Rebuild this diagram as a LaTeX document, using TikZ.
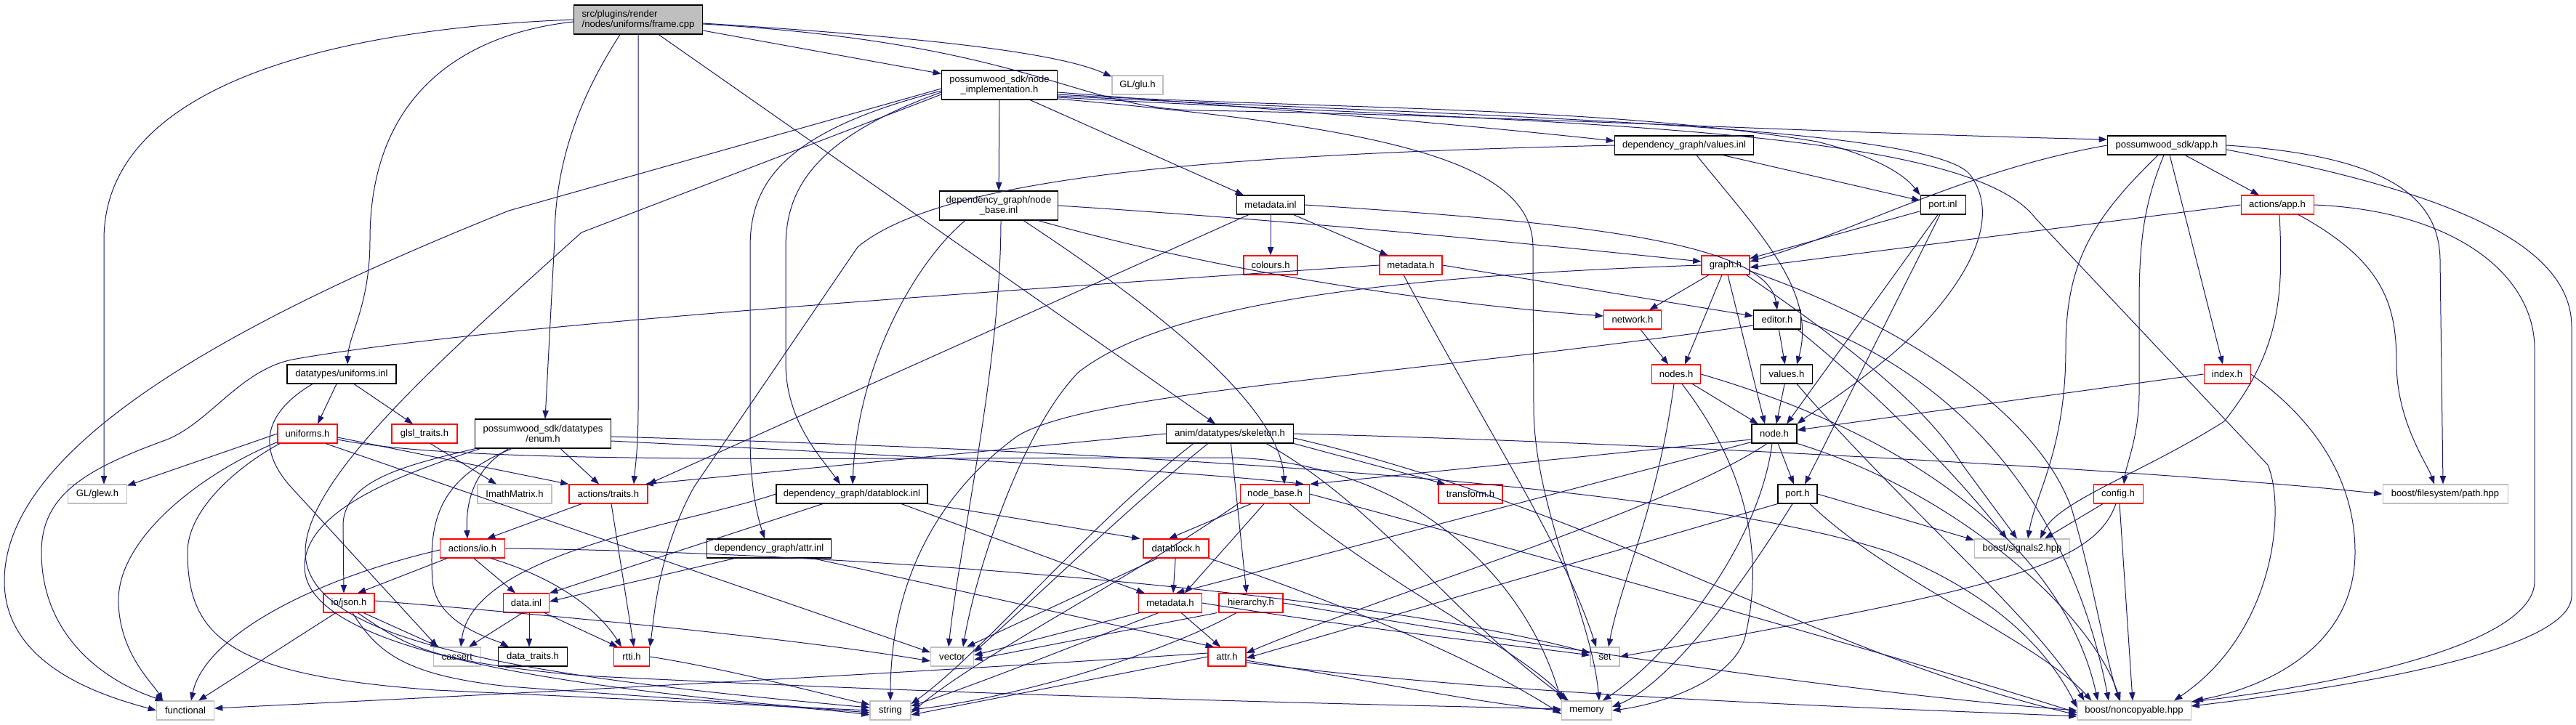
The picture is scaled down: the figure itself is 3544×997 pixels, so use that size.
\documentclass[tikz,border=0pt]{standalone}
\usepackage{fontspec}
\setmainfont{Liberation Sans}
\usetikzlibrary{arrows.meta,calc}
\definecolor{edgec}{HTML}{191970}
\definecolor{extc}{HTML}{BFBFBF}
\tikzset{
 every node/.style={font=\fontsize{9.8pt}{10.3pt}\selectfont},
 box/.style={draw=black, fill=white, line width=0.8pt, inner sep=0pt, rectangle},
 redbox/.style={box, draw=red},
 extbox/.style={box, draw=extc},
 rootbox/.style={box, fill=extc},
 bw/.style={minimum width=#1*0.75pt},
 bh/.style={minimum height=#1*0.75pt},
 e/.style={draw=edgec, line width=0.75pt, -{Triangle[length=8.5pt,width=6.2pt]}},
}
\begin{document}
\begin{tikzpicture}[x=0.75pt,y=-0.75pt]
\useasboundingbox (0,0) rectangle (3544,997);
% nodes
\node[rootbox,bw=177,bh=40,align=left] (root) at (878,27) {src/plugins/render\\/nodes/uniforms/frame.cpp};
\node[box,bw=159,bh=40,align=center] (nimpl) at (1375,117) {possumwood\_sdk/node\\\_implementation.h};
\node[extbox,bw=70,bh=26] (glu) at (1565,117) {GL/glu.h};
\node[box,bw=163,bh=40,align=center] (nbinl) at (1374,283) {dependency\_graph/node\\\_base.inl};
\node[box,bw=93,bh=26] (mdinl) at (1748,282) {metadata.inl};
\node[box,bw=191,bh=26] (valinl) at (2317,200) {dependency\_graph/values.inl};
\node[box,bw=62,bh=26] (portinl) at (2673,282) {port.inl};
\node[box,bw=163,bh=26] (apph) at (2981,200) {possumwood\_sdk/app.h};
\node[redbox,bw=100,bh=26] (actapp) at (3133,282) {actions/app.h};
\node[box,bw=150,bh=26] (uniinl) at (470,515) {datatypes/uniforms.inl};
\node[redbox,bw=82,bh=26] (unih) at (423,597) {uniforms.h};
\node[redbox,bw=90,bh=26] (glsl) at (584,597) {glsl\_traits.h};
\node[box,bw=187,bh=40,align=center] (enumh) at (747,597) {possumwood\_sdk/datatypes\\/enum.h};
\node[redbox,bw=74,bh=26] (colours) at (1748,365) {colours.h};
\node[redbox,bw=86,bh=26] (mdh1) at (1941,365) {metadata.h};
\node[redbox,bw=66,bh=26] (graphh) at (2374,365) {graph.h};
\node[redbox,bw=79,bh=26] (network) at (2246,440) {network.h};
\node[box,bw=65,bh=26] (editor) at (2445,440) {editor.h};
\node[redbox,bw=67,bh=26] (nodesh) at (2306,515) {nodes.h};
\node[box,bw=71,bh=26] (valuesh) at (2458,515) {values.h};
\node[box,bw=62,bh=26] (nodeh) at (2441,597) {node.h};
\node[redbox,bw=64,bh=26] (indexh) at (3064,515) {index.h};
\node[box,bw=175,bh=26] (skel) at (1692,597) {anim/datatypes/skeleton.h};
\node[extbox,bw=81,bh=26] (glew) at (134,680) {GL/glew.h};
\node[extbox,bw=102,bh=26] (imath) at (708,680) {ImathMatrix.h};
\node[redbox,bw=108,bh=26] (traits) at (837,680) {actions/traits.h};
\node[redbox,bw=89,bh=26] (actio) at (650,755) {actions/io.h};
\node[redbox,bw=70,bh=26] (json) at (480,830) {io/json.h};
\node[redbox,bw=63,bh=26] (datainl) at (724,830) {data.inl};
\node[extbox,bw=65,bh=26] (cassert) at (629,904) {cassert};
\node[box,bw=95,bh=26] (dtraits) at (733,904) {data\_traits.h};
\node[redbox,bw=49,bh=26] (rtti) at (869,904) {rtti.h};
\node[extbox,bw=79,bh=26] (functional) at (255,978) {functional};
\node[box,bw=208,bh=26] (dbinl) at (1172,680) {dependency\_graph/datablock.inl};
\node[box,bw=171,bh=26] (attrinl) at (1058,755) {dependency\_graph/attr.inl};
\node[redbox,bw=90,bh=26] (dbh) at (1618,755) {datablock.h};
\node[redbox,bw=87,bh=26] (mdh2) at (1610,830) {metadata.h};
\node[redbox,bw=88,bh=26] (hier) at (1721,830) {hierarchy.h};
\node[extbox,bw=59,bh=26] (vector) at (1310,904) {vector};
\node[redbox,bw=52,bh=26] (attrh) at (1688,904) {attr.h};
\node[extbox,bw=56,bh=26] (string) at (1225,978) {string};
\node[redbox,bw=95,bh=26] (nbh) at (1754,680) {node\_base.h};
\node[redbox,bw=88,bh=26] (transform) at (2023,680) {transform.h};
\node[box,bw=54,bh=26] (porth) at (2473,680) {port.h};
\node[extbox,bw=40,bh=26] (set) at (2208,904) {set};
\node[extbox,bw=69,bh=26] (memory) at (2183,978) {memory};
\node[redbox,bw=68,bh=26] (config) at (2914,680) {config.h};
\node[extbox,bw=172,bh=26] (path) at (3364,680) {boost/filesystem/path.hpp};
\node[extbox,bw=131,bh=26] (signals) at (2782,755) {boost/signals2.hpp};
\node[extbox,bw=156,bh=26] (noncop) at (2936,978) {boost/noncopyable.hpp};
% root
\draw[e] (root.west) .. controls (450,40) and (143,120) .. (143,330) -- ($(glew.north)+(9,0)$);
\draw[e] ($(root.west)+(0,3)$) .. controls (650,45) and (509,120) .. (509,330) .. controls (509,420) and (480,460) .. ($(uniinl.north)+(8,0)$);
\draw[e] ($(root.south)+(-25,0)$) .. controls (800,130) and (763,220) .. (763,330) -- ($(enumh.north)+(3,0)$);
\draw[e] (root.south) -- (878,560) .. controls (878,620) and (874,640) .. ($(traits.north)+(35,0)$);
\draw[e] ($(root.south)+(28,0)$) -- ($(skel.north)+(-20,0)$);
\draw[e] ($(root.east)+(0,15)$) -- ($(nimpl.north west)+(0,5)$);
\draw[e] ($(root.east)+(0,5)$) .. controls (1250,50) and (1450,70) .. ($(glu.north west)+(0,2)$);
\draw[e] ($(root.east)+(0,6)$) .. controls (1420,60) and (1480,150) .. (1650,152) .. controls (2100,160) and (2500,183) .. ($(apph.west)+(0,-8)$);
% nimpl
\draw[e] (nimpl) -- (nbinl);
\draw[e] ($(nimpl.south)+(42,0)$) -- ($(mdinl.north west)+(10,0)$);
\draw[e] ($(nimpl.east)+(0,10)$) .. controls (1750,150) and (2000,170) .. ($(valinl.west)+(0,-6)$);
\draw[e] ($(nimpl.east)+(0,13)$) .. controls (1800,150) and (2200,145) .. (2500,195) .. controls (2580,215) and (2620,240) .. (portinl.north west);
\draw[e] ($(nimpl.east)+(0,15)$) .. controls (2000,160) and (2650,170) .. (2710,240) .. controls (2770,320) and (2660,440) .. (2600,490) .. controls (2540,540) and (2490,570) .. (nodeh.north east);
\draw[e] ($(nimpl.east)+(0,17)$) .. controls (2100,170) and (2700,170) .. (2800,300) -- (3120,640) .. controls (3145,700) and (3130,870) .. ($(noncop.north)+(55,0)$);
\draw[e] ($(nimpl.east)+(0,19)$) .. controls (1900,175) and (2109,220) .. (2109,340) -- (2110,560) .. controls (2110,700) and (2190,850) .. ($(memory.north)+(17,0)$);
\draw[e] ($(nimpl.west)+(0,5)$) -- (700,290) .. controls (300,450) and (6,620) .. (6,800) .. controls (6,920) and (150,960) .. (functional.west);
\draw[e] ($(nimpl.west)+(0,8)$) .. controls (1080,180) and (1032,250) .. (1032,340) -- (1032,600) .. controls (1032,680) and (1045,720) .. ($(attrinl.north)+(-6,0)$);
\draw[e] ($(nimpl.west)+(0,10)$) .. controls (1120,190) and (1081,260) .. (1081,340) -- (1081,500) .. controls (1081,580) and (1130,630) .. ($(dbinl.north)+(-16,0)$);
\draw[e] ($(nimpl.west)+(0,13)$) -- (800,320) .. controls (600,500) and (420,660) .. (420,760) .. controls (420,880) and (700,930) .. ($(string.west)+(0,-4)$);
% nbinl
\draw[e] ($(nbinl.south)+(-46,0)$) .. controls (1260,360) and (1180,500) .. ($(dbinl.north)+(1,0)$);
\draw[e] ($(nbinl.south)+(34,0)$) .. controls (1600,430) and (1760,560) .. ($(nbh.north)+(13,0)$);
\draw[e] (nbinl.east) .. controls (1800,305) and (2100,335) .. ($(graphh.west)+(0,-5)$);
\draw[e] ($(nbinl.south)+(54,0)$) .. controls (1700,380) and (2000,420) .. ($(network.west)+(0,-5)$);
\draw[e] ($(nbinl.south)+(3,0)$) .. controls (1377,500) and (1320,750) .. ($(vector.north)+(-5,0)$);
% mdinl
\draw[e] (mdinl) -- (colours);
\draw[e] (mdinl) -- (mdh1);
\draw[e] ($(mdinl.south west)+(17,0)$) -- (traits.north east);
\draw[e] (mdinl.east) .. controls (2150,305) and (2430,330) .. (editor.north);
% valinl
\draw[e] ($(valinl.south)+(53,0)$) -- ($(portinl.west)+(0,-6)$);
\draw[e] ($(valinl.south)+(17,0)$) .. controls (2420,320) and (2500,400) .. ($(valuesh.north)+(14,0)$);
\draw[e] (valinl.west) .. controls (1700,212) and (1300,240) .. (1180,340) -- (955,670) .. controls (905,760) and (900,850) .. (rtti.north east);
% portinl
\draw[e] (portinl) -- (graphh);
\draw[e] ($(portinl.south)+(-7,0)$) -- ($(nodeh.north)+(17,0)$);
\draw[e] ($(portinl.south)+(-4,0)$) -- ($(porth.north)+(10,0)$);
% apph
\draw[e] (apph.west) .. controls (2700,235) and (2550,320) .. ($(graphh.east)+(0,-5)$);
\draw[e] (apph) -- (actapp);
\draw[e] ($(apph.south)+(-12,0)$) .. controls (2880,300) and (2842,360) .. (2842,480) .. controls (2842,620) and (2800,680) .. ($(signals.north)+(8,0)$);
\draw[e] ($(apph.south)+(-4,0)$) .. controls (2950,280) and (2943,330) .. (2943,420) -- (2943,540) .. controls (2943,600) and (2925,640) .. ($(config.north)+(8,0)$);
\draw[e] ($(apph.south)+(4,0)$) -- ($(indexh.north)+(-6,0)$);
\draw[e] (apph.east) .. controls (3300,215) and (3357,280) .. (3357,360) -- ($(path.north)+(-3,0)$);
\draw[e] ($(apph.east)+(0,6)$) .. controls (3350,260) and (3538,330) .. (3538,450) -- (3538,820) .. controls (3538,900) and (3200,950) .. ($(noncop.east)+(0,-6)$);
% actapp
\draw[e] (actapp.west) -- ($(graphh.east)+(0,3)$);
\draw[e] ($(actapp.south)+(3,0)$) .. controls (3141,400) and (3140,480) .. (3060,580) .. controls (2950,650) and (2830,690) .. ($(signals.north)+(25,0)$);
\draw[e] ($(actapp.south)+(29,0)$) .. controls (3280,360) and (3297,420) .. (3297,500) .. controls (3297,580) and (3340,640) .. ($(path.north)+(-15,0)$);
\draw[e] (actapp.east) .. controls (3380,290) and (3487,380) .. (3487,480) -- (3487,800) .. controls (3487,890) and (3200,945) .. ($(noncop.east)+(0,-12)$);
% uniinl
\draw[e] ($(uniinl.south)+(-7,0)$) -- ($(unih.north)+(14,0)$);
\draw[e] ($(uniinl.south)+(17,0)$) -- ($(glsl.north)+(-16,0)$);
\draw[e] ($(uniinl.south)+(-40,0)$) .. controls (360,570) and (355,620) .. (400,670) -- ($(cassert.north)+(-27,0)$);
% unih
\draw[e] (unih.west) -- ($(glew.north east)+(0,2)$);
\draw[e] ($(unih.south west)+(0,-2)$) .. controls (280,650) and (160,740) .. (163,830) .. controls (165,900) and (210,940) .. ($(functional.north)+(-31,0)$);
\draw[e] ($(unih.south)+(-38,0)$) .. controls (330,640) and (258,700) .. (258,760) .. controls (258,880) and (320,930) .. (600,950) -- (string.west);
\draw[e] ($(unih.south)+(25,0)$) -- ($(vector.west)+(0,-6)$);
\draw[e] ($(unih.east)+(0,5)$) -- (traits.north west);
\draw[e] ($(unih.east)+(0,8)$) .. controls (640,640) and (1100,630) .. (1700,630) .. controls (1950,640) and (2100,800) .. (memory.north west);
% glsl
\draw[e] ($(glsl.south)+(8,0)$) -- ($(imath.north)+(-25,0)$);
% enumh
\draw[e] ($(enumh.south west)+(1,0)$) .. controls (560,640) and (476,660) .. (472,720) -- ($(json.north)+(-7,0)$);
\draw[e] ($(enumh.south west)+(8,0)$) .. controls (560,650) and (419,700) .. (419,780) .. controls (419,900) and (800,950) .. ($(string.west)+(0,3)$);
\draw[e] ($(enumh.south)+(-47,0)$) .. controls (660,640) and (640,680) .. ($(actio.north)+(-7,0)$);
\draw[e] ($(enumh.south)+(-43,0)$) .. controls (600,660) and (590,720) .. (595,800) .. controls (600,860) and (680,880) .. ($(dtraits.north)+(-33,0)$);
\draw[e] ($(enumh.south)+(24,0)$) -- ($(traits.north)+(-13,0)$);
\draw[e] ($(enumh.east)+(0,10)$) .. controls (1300,630) and (1650,650) .. ($(nbh.north)+(40,0)$);
\draw[e] ($(enumh.east)+(0,4)$) .. controls (1500,620) and (2300,660) .. (2600,760) .. controls (2750,820) and (2820,900) .. ($(noncop.west)+(0,-4)$);
% mdh1
\draw[e] (mdh1.east) -- ($(editor.west)+(0,-5)$);
\draw[e] ($(mdh1.south)+(-10,0)$) .. controls (2050,600) and (2150,750) .. ($(set.north)+(-12,0)$);
\draw[e] (mdh1.west) .. controls (1300,405) and (650,450) .. (402,495) .. controls (330,510) and (290,580) .. (230,605) .. controls (120,645) and (57,680) .. (57,760) .. controls (57,880) and (150,940) .. ($(functional.north)+(-30,0)$);
% graphh
\draw[e] (graphh) -- (network);
\draw[e] ($(graphh.south)+(-5,0)$) -- ($(nodesh.north)+(12,0)$);
\draw[e] ($(graphh.south)+(3,0)$) -- ($(nodeh.north)+(-13,0)$);
\draw[e] (graphh.west) .. controls (1900,380) and (1600,420) .. (1483,513) .. controls (1400,600) and (1340,800) .. ($(vector.north)+(15,0)$);
\draw[e] ($(graphh.south east)+(-5,0)$) .. controls (2550,480) and (2650,560) .. (2700,640) -- ($(signals.north)+(-7,0)$);
\draw[e] ($(graphh.east)+(0,8)$) .. controls (2600,440) and (2800,560) .. (2850,700) .. controls (2880,800) and (2895,900) .. ($(noncop.north)+(-20,0)$);
% editor
\draw[e] (editor) -- (valuesh);
\draw[e] ($(editor.west)+(0,8)$) .. controls (1900,520) and (1500,540) .. (1400,600) .. controls (1290,680) and (1225,800) .. (string.north);
\draw[e] ($(editor.south east)+(-5,0)$) .. controls (2580,540) and (2680,640) .. ($(signals.north)+(-21,0)$);
\draw[e] (editor.east) .. controls (2700,520) and (2850,700) .. ($(noncop.north)+(-35,0)$);
% network, nodes, values
\draw[e] (network) -- (nodesh);
\draw[e] (nodesh) -- (nodeh);
\draw[e] ($(nodesh.south)+(-3,0)$) .. controls (2280,700) and (2230,800) .. ($(set.north)+(5,0)$);
\draw[e] ($(nodesh.south)+(8,0)$) .. controls (2400,640) and (2430,760) .. (2400,880) .. controls (2380,940) and (2280,970) .. (memory.east);
\draw[e] (nodesh.east) .. controls (2700,620) and (2850,800) .. ($(noncop.north)+(-50,0)$);
\draw[e] (valuesh) -- (nodeh);
\draw[e] ($(valuesh.south)+(14,0)$) .. controls (2620,700) and (2800,850) .. ($(noncop.north west)+(10,0)$);
% nodeh
\draw[e] (nodeh) -- (porth);
\draw[e] ($(nodeh.west)+(0,8)$) -- ($(nbh.north east)+(0,0)$);
\draw[e] ($(nodeh.south west)+(0,-2)$) -- ($(mdh2.north)+(8,0)$);
\draw[e] ($(nodeh.south)+(-10,0)$) .. controls (2300,700) and (1900,820) .. ($(attrh.east)+(0,-5)$);
\draw[e] ($(nodeh.south)+(-3,0)$) .. controls (2420,750) and (2300,900) .. ($(memory.north)+(22,0)$);
\draw[e] (nodeh.south east) .. controls (2700,680) and (2880,850) .. ($(noncop.north)+(-19,0)$);
% porth
\draw[e] (porth.south west) -- ($(attrh.east)+(0,2)$);
\draw[e] ($(porth.south)+(-7,0)$) .. controls (2400,800) and (2300,940) .. ($(memory.east)+(0,-5)$);
\draw[e] ($(porth.south)+(17,0)$) .. controls (2600,800) and (2800,880) .. ($(noncop.north west)+(20,0)$);
\draw[e] (porth.east) -- ($(signals.north west)+(0,2)$);
% index, config
\draw[e] (indexh.west) -- ($(nodeh.east)+(0,-5)$);
\draw[e] (indexh.east) .. controls (3160,560) and (3240,640) .. (3240,760) .. controls (3240,900) and (3100,950) .. ($(noncop.north east)+(5,0)$);
\draw[e] ($(config.south)+(-3,0)$) .. controls (2880,780) and (2750,810) .. (set.east);
\draw[e] ($(config.south)+(-21,0)$) -- ($(signals.north)+(31,0)$);
\draw[e] ($(config.south)+(2,0)$) -- ($(noncop.north)+(-2,0)$);
% skel
\draw[e] (skel.west) -- ($(traits.north east)+(-4,0)$);
\draw[e] (skel) -- ($(hier.north)+(-6,0)$);
\draw[e] (skel.south east) -- ($(transform.north west)+(10,0)$);
\draw[e] ($(skel.south)+(-30,0)$) .. controls (1550,700) and (1450,800) .. ($(vector.east)+(0,-6)$);
\draw[e] ($(skel.south)+(-50,0)$) .. controls (1500,720) and (1350,900) .. ($(string.east)+(0,-9)$);
\draw[e] ($(skel.south)+(50,0)$) .. controls (1900,700) and (2000,850) .. ($(memory.north)+(-25,0)$);
\draw[e] ($(skel.east)+(0,6)$) .. controls (2200,700) and (2500,900) .. ($(noncop.west)+(0,6)$);
\draw[e] (skel.east) .. controls (2300,610) and (3000,650) .. (path.west);
% mid
\draw[e] (traits) -- ($(actio.north)+(20,0)$);
\draw[e] ($(traits.south)+(4,0)$) -- ($(rtti.north)+(3,0)$);
\draw[e] (actio) -- ($(json.north)+(12,0)$);
\draw[e] ($(actio.west)+(0,2)$) .. controls (420,800) and (280,880) .. ($(functional.north)+(8,0)$);
\draw[e] ($(actio.south)+(2,0)$) -- ($(datainl.north)+(-15,0)$);
\draw[e] ($(actio.south)+(25,0)$) .. controls (780,800) and (830,850) .. ($(rtti.north)+(-14,0)$);
\draw[e] (actio.east) .. controls (1200,760) and (1900,820) .. ($(set.west)+(0,-5)$);
\draw[e] ($(json.south)+(-18,0)$) -- ($(functional.north)+(18,0)$);
\draw[e] ($(json.south)+(20,0)$) -- ($(cassert.north)+(-25,0)$);
\draw[e] ($(json.east)+(0,-3)$) .. controls (800,850) and (1100,880) .. ($(vector.west)+(0,6)$);
\draw[e] ($(json.south)+(5,0)$) .. controls (520,900) and (560,930) .. (700,945) .. controls (900,960) and (1100,972) .. ($(string.west)+(0,6)$);
\draw[e] ($(json.south)+(12,0)$) .. controls (560,890) and (590,910) .. (800,930) .. controls (1400,960) and (1900,970) .. ($(memory.west)+(0,-2)$);
\draw[e] ($(datainl.south)+(-5,0)$) -- ($(cassert.north)+(16,0)$);
\draw[e] ($(datainl.south)+(4,0)$) -- ($(dtraits.north)+(-5,0)$);
\draw[e] ($(datainl.south)+(25,0)$) -- ($(rtti.north)+(-19,0)$);
\draw[e] (rtti.east) .. controls (1000,920) and (1150,960) .. ($(string.west)+(0,-8)$);
\draw[e] ($(dbinl.south)+(-40,0)$) -- (datainl.north east);
\draw[e] (dbinl.west) .. controls (950,720) and (650,760) .. ($(cassert.north)+(5,0)$);
\draw[e] ($(dbinl.south)+(68,0)$) -- ($(mdh2.north)+(-35,0)$);
\draw[e] ($(dbinl.south)+(104,0)$) -- ($(dbh.north west)+(-4,0)$);
\draw[e] ($(attrinl.south)+(-47,0)$) -- ($(datainl.east)+(0,-2)$);
\draw[e] ($(attrinl.south)+(60,0)$) -- ($(attrh.north)+(-18,0)$);
\draw[e] (dbh) -- ($(mdh2.north)+(4,0)$);
\draw[e] ($(dbh.south west)+(20,0)$) -- ($(vector.north)+(20,0)$);
\draw[e] (dbh.south east) .. controls (1900,850) and (2050,920) .. ($(memory.west)+(0,5)$);
\draw[e] ($(mdh2.south west)+(2,0)$) -- ($(vector.east)+(0,-2)$);
\draw[e] ($(mdh2.south)+(-16,0)$) .. controls (1500,880) and (1350,940) .. ($(string.east)+(0,-6)$);
\draw[e] ($(mdh2.south)+(15,0)$) -- ($(attrh.north)+(-9,0)$);
\draw[e] (mdh2.east) .. controls (1900,870) and (2100,890) .. ($(set.west)+(0,-2)$);
\draw[e] ($(hier.south west)+(-2,0)$) -- ($(vector.east)+(0,4)$);
\draw[e] ($(hier.south)+(-20,0)$) .. controls (1600,900) and (1400,960) .. ($(string.east)+(0,-1)$);
\draw[e] (hier.east) .. controls (2000,870) and (2500,950) .. ($(noncop.west)+(0,0)$);
\draw[e] ($(nbh.south west)+(15,0)$) -- ($(dbh.north)+(-10,0)$);
\draw[e] ($(nbh.south)+(-15,0)$) -- ($(mdh2.north)+(20,0)$);
\draw[e] ($(nbh.south west)+(0,-2)$) .. controls (1550,800) and (1350,900) .. ($(string.east)+(0,3)$);
\draw[e] ($(nbh.south)+(20,0)$) .. controls (1900,800) and (2100,900) .. ($(memory.north)+(-28,0)$);
\draw[e] (nbh.east) .. controls (2100,760) and (2600,900) .. ($(noncop.west)+(0,3)$);
\draw[e] (attrh.west) -- ($(string.east)+(0,6)$);
\draw[e] ($(attrh.west)+(0,-5)$) .. controls (1200,930) and (600,960) .. ($(functional.east)+(0,-3)$);
\draw[e] ($(attrh.east)+(0,5)$) .. controls (1900,940) and (2050,970) .. (memory.west);
\draw[e] ($(attrh.east)+(0,8)$) .. controls (2100,960) and (2600,975) .. ($(noncop.west)+(0,8)$);
\end{tikzpicture}
\end{document}
